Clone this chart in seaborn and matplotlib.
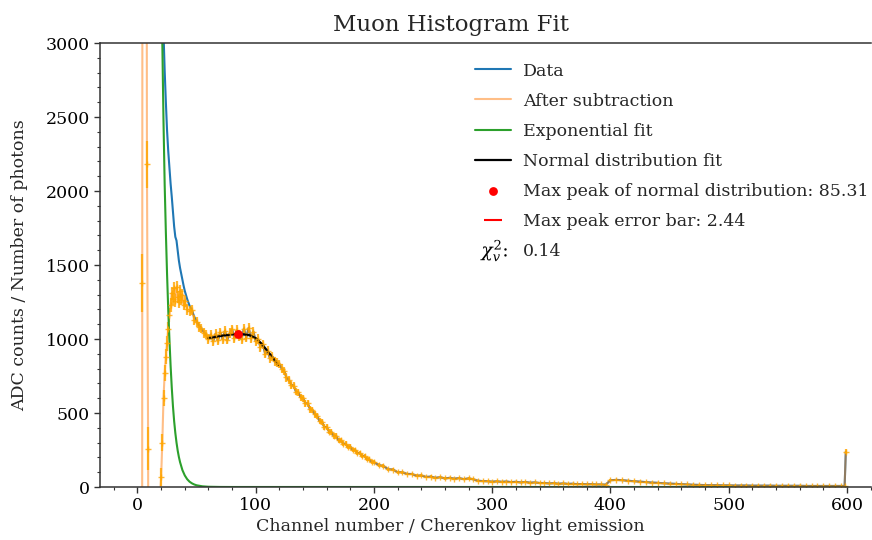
import numpy as np
import matplotlib
matplotlib.use("Agg")
import matplotlib.pyplot as plt
from matplotlib.lines import Line2D
import seaborn as sns

# start of the spectrum: raw ADC counts and counts after the exponential
# background was taken off (pedestal region lies far outside the y range)
CH_HEAD = [2, 3, 4, 5, 6, 7, 8, 9, 10, 12, 14, 16, 18, 19, 20, 21, 22, 23, 24,
           25, 26, 27, 28, 29, 30, 31, 32, 33, 34, 35, 36, 37, 38, 39, 40, 42,
           44, 46, 48, 50, 52, 54, 56, 58]
RAW_HEAD = [52000, 45000, 38000, 36000, 33000, 29000, 25600, 22000, 17000,
            12000, 8800, 6500, 4900, 4300, 3700, 3300, 3070, 2810, 2600, 2410,
            2270, 2160, 2050, 1960, 1860, 1760, 1690, 1665, 1600, 1530, 1480,
            1440, 1400, 1360, 1325, 1270, 1225, 1195, 1150, 1120, 1093, 1070,
            1048, 1027]
SUB_HEAD = [-45000, -30000, 1380, 16000, 24000, 9000, 2180, 260, -9000, -8000,
            -6000, -3500, -1100, -90, 70, 300, 600, 770, 880, 970, 1070, 1160,
            1230, 1310, 1270, 1345, 1260, 1350, 1285, 1250, 1325, 1265, 1300,
            1230, 1255, 1200, 1190, 1195, 1130, 1115, 1080, 1070, 1040, 1030]

# rest of the spectrum (background fit is ~0 here, raw == subtracted)
CH_BODY = (list(range(60, 200, 2)) + list(range(200, 400, 4))
           + list(range(400, 600, 5)) + [598, 599])
COUNTS_BODY = [
    1000, 1030, 985, 1035, 990, 1045, 1000, 1055, 995, 1040,
    1065, 1005, 1060, 1020, 1000, 1070, 1010, 1075, 1005, 1050,
    985, 1000, 945, 965, 900, 920, 870, 880, 850, 840,
    830, 800, 785, 740, 725, 690, 685, 645, 640, 605,
    600, 565, 565, 525, 520, 490, 480, 445, 440, 405,
    405, 375, 372, 345, 345, 315, 315, 292, 292, 270,
    272, 250, 250, 228, 230, 208, 210, 188, 186, 170,
    168, 148, 142, 120, 118, 100, 100, 88, 88, 76,
    78, 68, 70, 62, 66, 58, 62, 56, 60, 53,
    58, 52, 42, 40, 39, 36, 38, 35, 37, 33,
    35, 31, 34, 29, 31, 27, 27, 24, 26, 22,
    24, 21, 22, 19, 20, 18, 19, 17, 17, 16,
    46, 48, 46, 42, 39, 36, 33, 30, 28, 25,
    23, 21, 19, 17, 15, 14, 13, 12, 12, 11,
    11, 10, 10, 10, 9, 9, 9, 9, 8, 8,
    8, 8, 8, 7, 7, 7, 7, 7, 7, 7,
    7, 238]

# exponential background fit
EXP_CH = [17, 18, 19, 20, 21, 22, 23, 24, 25, 26, 27, 28, 29, 30, 31, 32, 33,
          34, 35, 36, 38, 40, 42, 44, 46, 48, 50, 55, 60, 70, 80, 600]
EXP_VAL = [6470, 5340, 4410, 3630, 3000, 2470, 2040, 1720, 1440, 1200, 1000,
           820, 670, 545, 445, 365, 300, 246, 203, 168, 114, 78, 53, 36, 25,
           17, 11.5, 4.5, 1.7, 0.3, 0, 0]

# normal distribution fit around the muon peak
GAUSS_CH = [60, 65, 70, 75, 80, 85, 90, 95, 100, 105, 110, 115, 119]
GAUSS_VAL = [1005, 1013, 1020, 1026, 1031, 1033, 1031, 1025, 1005, 968, 918,
             868, 824]

PEAK_CH = 85.31
PEAK_VAL = 1033
PEAK_ERR = 2.44
CHI2 = 0.14

channels = np.array(CH_HEAD + CH_BODY)
raw = np.array(RAW_HEAD + COUNTS_BODY, dtype=float)
sub = np.array(SUB_HEAD + COUNTS_BODY, dtype=float)

sns.set_style("ticks")
plt.rcParams["font.family"] = ["DejaVu Serif"]
plt.rcParams["mathtext.fontset"] = "dejavuserif"
plt.rcParams["axes.edgecolor"] = "#333333"
plt.rcParams["xtick.color"] = "#333333"
plt.rcParams["ytick.color"] = "#333333"
plt.rcParams["xtick.labelcolor"] = "black"
plt.rcParams["ytick.labelcolor"] = "black"

fig = plt.figure(figsize=(8.72, 5.4), dpi=100)
ax = fig.add_axes([100 / 872, 53 / 540, 771 / 872, 444 / 540])

sns.lineplot(x=channels, y=raw, color="#1f77b4", linewidth=1.5,
             label="Data", ax=ax, sort=False)
sns.lineplot(x=channels, y=sub, color="#ff7f0e", alpha=0.5, linewidth=1.5,
             label="After subtraction", ax=ax, sort=False)
# Poisson errors from the raw counts
ax.errorbar(channels, sub, yerr=np.sqrt(raw), fmt="+", color="orange",
            markersize=4, elinewidth=1.6, alpha=0.8, label="_nolegend_")
sns.lineplot(x=EXP_CH, y=EXP_VAL, color="#2ca02c", linewidth=1.5,
             label="Exponential fit", ax=ax, sort=False)
sns.lineplot(x=GAUSS_CH, y=GAUSS_VAL, color="black", linewidth=1.6,
             label="Normal distribution fit", ax=ax, sort=False)
sns.scatterplot(x=[PEAK_CH], y=[PEAK_VAL], color="red", s=40, linewidth=0,
                zorder=6, label=f"Max peak of normal distribution: {PEAK_CH}",
                ax=ax)
ax.errorbar([PEAK_CH], [PEAK_VAL], xerr=[PEAK_ERR], fmt="none", ecolor="red",
            elinewidth=1.5, zorder=6, label=f"Max peak error bar: {PEAK_ERR}")

ax.set_xlim(-31.7, 620.3)
ax.set_ylim(0, 3000)
ax.set_xticks([0, 100, 200, 300, 400, 500, 600])
ax.set_yticks([0, 500, 1000, 1500, 2000, 2500, 3000])
ax.xaxis.set_minor_locator(matplotlib.ticker.MultipleLocator(20))
ax.yaxis.set_minor_locator(matplotlib.ticker.MultipleLocator(100))
ax.tick_params(axis="both", which="major", labelsize=12.5, length=4,
               width=1)
ax.tick_params(axis="both", which="minor", length=2, width=0.8)
for side in ("left", "bottom", "top"):
    ax.spines[side].set_linewidth(1.1)
ax.spines["right"].set_visible(False)

ax.set_title("Muon Histogram Fit", fontsize=16.5, x=0.455, pad=9)
ax.set_xlabel("Channel number / Cherenkov light emission", fontsize=12.5)
ax.set_ylabel("ADC counts / Number of photons", fontsize=12.5)
ax.xaxis.set_label_coords(0.455, -0.069)
ax.yaxis.set_label_coords(-0.093, 0.5)

handles, labels = ax.get_legend_handles_labels()
chi_handle = Line2D([], [], linestyle="none", marker=r"$\chi_v^2$:",
                    markersize=19, markeredgewidth=0, color="black")
handles.append(chi_handle)
labels.append(f"{CHI2}")
ax.legend(handles, labels, loc="upper left", bbox_to_anchor=(0.486, 0.956),
          frameon=False, fontsize=12.5, borderaxespad=0, borderpad=0,
          labelspacing=0.75, handlelength=2.1, handletextpad=0.7,
          numpoints=1, scatterpoints=1)

fig.savefig("out.png", dpi=100)
